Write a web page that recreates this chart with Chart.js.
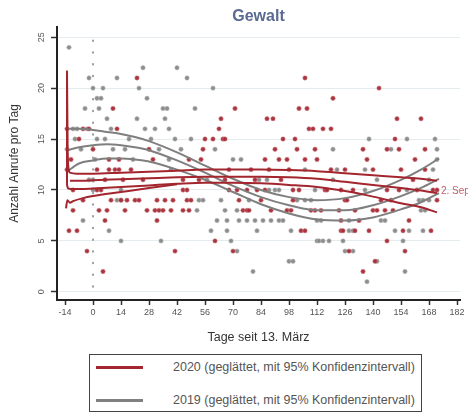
<!DOCTYPE html>
<html><head><meta charset="utf-8">
<script src="https://cdn.jsdelivr.net/npm/chart.js@4.4.0/dist/chart.umd.min.js"></script>
<style>
html,body{margin:0;padding:0;background:#fff;}
#wrap{position:relative;width:468px;height:414px;font-family:'Liberation Sans',Arial,sans-serif;overflow:hidden;}
#cv{position:absolute;left:0;top:0;}
#legend{position:absolute;left:89px;top:354px;width:333px;height:58px;border:1.5px solid #444;box-sizing:border-box;}
.lg-line{position:absolute;left:6px;width:47px;height:3px;}
.lg-text{position:absolute;left:83px;font-size:12.5px;color:#555;white-space:nowrap;line-height:16px;}
</style>
</head><body>
<div id="wrap">
<canvas id="cv" width="468" height="350"></canvas>
<div id="legend">
  <div class="lg-line" style="top:11px;background:#a3262e;"></div>
  <div class="lg-text" id="lg1" style="top:4px;"></div>
  <div class="lg-line" style="top:44px;background:#808080;"></div>
  <div class="lg-text" id="lg2" style="top:37px;"></div>
</div>
</div>
<script>
// ---- texts ----
const titleText = 'Gewalt';
const xTitle = 'Tage seit 13. März';
const yTitle = 'Anzahl Anrufe pro Tag';
const legendTexts = ['2020 (geglättet, mit 95% Konfidenzintervall)', '2019 (geglättet, mit 95% Konfidenzintervall)'];
const endLabel = '2. Sep';
const endLabelPoint = [172, 10];

// ---- ticks ----
const xTicks = [-14, 0, 14, 28, 42, 56, 70, 84, 98, 112, 126, 140, 154, 168, 182];
const yTicks = [0, 5, 10, 15, 20, 25];

// ---- daily counts 2020 [day, calls] ----
const pts2020 = [
  [-13,16],[-7,15],[-5,16],[-2,16],[0,14],[10,18],[12,16],[22,21],[28,14],
  [-11,13],[8,13],[13,13],[30,13],[2,12],[8,12],[11,12],[13,12],[19,12],[-13,12],
  [6,11],[15,11],[25,11],[-10,10],[2,10],[4,10],
  [-5,9],[9,9],[17,9],[21,9],[23,9],[32,9],[36,9],[40,9],[47,9],[14,9],
  [-10,8],[3,8],[7,8],[16,8],[27,8],[31,8],[33,8],[35,8],[39,8],[48,8],
  [6,7],[32,7],[-12,6],[-8,6],[-3,4],[41,4],[5,2],
  [106,21],[71,18],[103,18],[107,18],[64,17],[87,17],[90,17],[63,16],[108,16],[110,16],
  [56,15],[60,15],[65,15],[66,15],[95,15],[101,15],[55,14],[91,14],[102,14],[111,14],
  [48,13],[54,13],[86,13],[93,13],[97,13],[106,13],[68,12],[79,12],[88,12],[98,12],
  [45,11],[53,11],[66,11],[81,11],[94,11],
  [45,10],[47,10],[68,10],[72,10],[77,10],[82,10],[86,10],[100,10],[103,10],
  [49,9],[73,9],[84,9],[100,9],
  [45,8],[75,8],[77,8],[78,8],[89,8],[97,8],[99,8],[109,8],[111,8],
  [104,6],[106,6],[61,5],[70,4],
  [143,20],[120,19],[152,17],[164,17],[115,16],[119,16],[151,15],
  [135,14],[147,14],[153,14],[166,14],[112,13],[137,13],[161,13],
  [119,12],[126,12],[140,12],[154,12],[166,12],[160,11],
  [116,10],[117,10],[124,10],[130,10],[147,10],[153,10],[162,10],[170,10],[172,10],
  [126,9],[127,9],[144,9],[149,9],[172,9],
  [114,8],[123,8],[131,8],[140,8],[142,8],[146,8],[150,8],
  [124,7],[133,7],[158,7],[124,6],[125,6],[131,6],[138,6],[155,6],[169,6],
  [147,5],[128,4],[156,4],[141,3],[135,2]
];

// ---- daily counts 2019 [day, calls] ----
const pts2019 = [
  [-12,24],[-2,21],[12,21],[25,22],[42,22],[47,21],[0,20],[5,20],[23,20],
  [2,19],[4,19],[27,19],[-4,18],[3,18],[35,18],[37,18],[7,17],[22,17],[36,17],
  [-10,16],[-8,16],[26,16],[31,16],[38,16],[-3,16],[9,16],
  [41,15],[2,15],[-9,15],[6,15],[18,15],[29,15],
  [44,14],[-6,14],[10,14],[-13,14],[16,14],[33,14],
  [1,13],[20,13],[38,13],[39,12],[-2,11],[0,11],[0,10],[14,10],[12,9],[14,9],
  [-5,7],[8,6],[14,5],[34,5],
  [60,20],[51,18],[49,15],[61,14],[70,13],[74,13],[106,12],
  [57,11],[83,11],[87,11],[88,10],[91,10],[93,10],
  [53,9],[55,9],[64,9],[78,9],[102,9],[106,9],[109,9],[52,8],[66,8],[72,8],
  [62,7],[67,7],[73,7],[77,7],[81,7],[85,7],[89,7],[93,7],[95,7],
  [59,6],[67,6],[82,6],[99,6],[69,5],[112,5],[72,4],[98,3],[100,3],[80,2],
  [138,15],[157,15],[171,15],[120,14],[149,14],[172,14],[172,13],
  [122,12],[136,12],[170,12],[120,11],[142,11],[168,11],[111,10],[136,10],[157,10],
  [163,9],[165,9],[168,9],[164,8],[166,8],
  [112,7],[114,7],[128,7],[144,7],[146,7],[128,6],[130,6],[151,6],[158,6],[165,6],
  [113,5],[115,5],[118,5],[125,5],[155,5],[126,4],[130,4],[142,3],[156,2],[137,1]
];

// ---- smoothed fit 2020 with confidence bounds ----
const fit20SpikeDays = [-13, -13];
const fit20SpikeVals = [21.7, 10.5];
const fit20UpDays = [-13, -12.7, -12.3, -11.5, -8, 0, 14, 28, 42, 56, 70, 84, 98, 112, 126, 140, 154, 164, 172];
const fit20UpVals = [21.7, 14.5, 12.2, 11.7, 11.6, 11.6, 11.7, 11.8, 11.9, 12.0, 12.0, 12.0, 11.95, 11.85, 11.65, 11.45, 11.25, 11.1, 10.9];
const fit20MidDays = [-11.5, -10, -5, 0, 14, 28, 42, 56, 70, 84, 98, 112, 126, 140, 154, 164, 172];
const fit20MidVals = [10.9, 10.9, 10.9, 10.95, 11.05, 11.15, 11.25, 11.3, 11.3, 11.3, 11.25, 11.1, 10.8, 10.5, 10.2, 9.95, 9.7];
const fit20LowDays = [-13, -12.5, -11, -6, 0, 14, 28, 42, 56, 70, 84, 98, 112, 126, 140, 154, 164, 172];
const fit20LowVals = [10.5, 10.15, 10.1, 10.1, 10.15, 10.3, 10.45, 10.6, 10.7, 10.7, 10.65, 10.5, 10.3, 9.9, 9.35, 8.7, 8.3, 7.8];
const fit20WaveDays = [-13.5, -12.8, -11.5, -10, -5, 0, 14, 28, 42];
const fit20WaveVals = [8.2, 9.0, 8.75, 8.9, 9.2, 9.4, 9.8, 10.2, 10.55];

// ---- smoothed fit 2019 with confidence bounds ----
const fit19Days = [-13, -7, 0, 7, 14, 21, 28, 42, 56, 70, 84, 98, 112, 126, 140, 154, 164, 173];
const fit19Up  = [16.0, 16.0, 15.9, 15.7, 15.5, 15.2, 14.8, 13.7, 12.4, 11.1, 10.0, 9.3, 9.0, 9.2, 9.9, 11.0, 12.0, 13.1];
const fit19Mid = [13.9, 14.2, 14.4, 14.5, 14.4, 14.2, 13.9, 12.9, 11.7, 10.4, 9.3, 8.5, 8.0, 8.0, 8.5, 9.4, 10.2, 11.1];
const fit19Low = [11.8, 12.6, 12.9, 13.1, 13.1, 13.0, 12.8, 12.0, 11.0, 9.8, 8.6, 7.7, 7.1, 7.0, 7.3, 8.1, 8.8, 9.7];

// ---- reference line (day 0) ----
const refLineDays = [0, 0];
const refLineVals = [0.5, 25.7];

const xy = (ds, vs) => ds.map((d, i) => ({x: d, y: vs[i]}));
const pxy = pts => pts.map(p => ({x: p[0], y: p[1]}));

document.getElementById('lg1').textContent = legendTexts[0];
document.getElementById('lg2').textContent = legendTexts[1];

const RED = '#a3262e', GRAY = '#7f7f7f';
const lineDs = (data, color, extra) => Object.assign({
  type: 'line', data, borderColor: color, borderWidth: 2, pointRadius: 0, fill: false,
  cubicInterpolationMode: 'monotone', order: 1
}, extra || {});

const endLabelPlugin = {
  id: 'endLabel',
  afterDatasetsDraw(chart) {
    const {ctx, scales: {x, y}} = chart;
    ctx.save();
    ctx.font = '10px "Liberation Sans", Arial, sans-serif';
    ctx.fillStyle = '#c0606a';
    ctx.textBaseline = 'middle';
    ctx.textAlign = 'left';
    ctx.fillText(endLabel, x.getPixelForValue(endLabelPoint[0]) + 4, y.getPixelForValue(endLabelPoint[1]) + 1);
    ctx.restore();
  }
};

Chart.defaults.font.family = '"Liberation Sans", Arial, sans-serif';

new Chart(document.getElementById('cv'), {
  type: 'scatter',
  data: {
    datasets: [
      lineDs(xy(fit20SpikeDays, fit20SpikeVals), RED, {tension: 0, cubicInterpolationMode: 'default', order: 0}),
      lineDs(xy(fit20UpDays, fit20UpVals), RED, {order: 0}),
      lineDs(xy(fit20MidDays, fit20MidVals), RED, {order: 0}),
      lineDs(xy(fit20LowDays, fit20LowVals), RED, {order: 0}),
      lineDs(xy(fit20WaveDays, fit20WaveVals), RED, {order: 0}),
      lineDs(xy(fit19Days, fit19Up), GRAY),
      lineDs(xy(fit19Days, fit19Mid), GRAY),
      lineDs(xy(fit19Days, fit19Low), GRAY),
      {data: pxy(pts2020), pointRadius: 2.2, pointBorderWidth: 0.8,
       backgroundColor: 'rgba(165,40,52,0.95)', borderColor: 'rgba(205,130,135,0.7)', order: 2},
      {data: pxy(pts2019), pointRadius: 2.2, pointBorderWidth: 0.8,
       backgroundColor: 'rgba(135,135,135,0.95)', borderColor: 'rgba(185,185,185,0.7)', order: 3},
      lineDs(xy(refLineDays, refLineVals), '#9a9a9a', {tension: 0, cubicInterpolationMode: 'default',
        borderWidth: 2, borderDash: [0.5, 11.2], borderCapStyle: 'round', order: 4})
    ]
  },
  options: {
    responsive: false,
    animation: false,
    devicePixelRatio: 1,
    layout: {padding: {left: 0, right: 8, top: 0, bottom: 4}},
    plugins: {legend: {display: false}, tooltip: {enabled: false}, title: {display: false}},
    scales: {
      x: {
        type: 'linear', position: 'bottom', min: -18, max: 183.5,
        afterBuildTicks: s => { s.ticks = xTicks.map(v => ({value: v})); },
        afterFit: s => { s.height = 46; },
        grid: {display: true, drawOnChartArea: false, drawTicks: true, tickLength: 5, tickColor: '#333', tickWidth: 1.5},
        border: {display: true, color: '#222', width: 2},
        ticks: {font: {size: 9}, color: '#555', padding: 2, maxRotation: 0, minRotation: 0, autoSkip: false},
        title: {display: true, text: xTitle, font: {size: 12.5}, color: '#333', padding: {top: 0, bottom: 1}}
      },
      xTop: {
        type: 'linear', position: 'top', min: -18, max: 183.5,
        afterFit: s => { s.height = 27; },
        grid: {display: false, drawTicks: false},
        border: {display: false},
        ticks: {display: false},
        title: {display: true, text: titleText, font: {size: 16, weight: 'bold'}, color: '#5b6a93', padding: {top: 7, bottom: 0}}
      },
      y: {
        type: 'linear', position: 'left', min: -0.8, max: 26,
        afterBuildTicks: s => { s.ticks = yTicks.map(v => ({value: v})); },
        afterFit: s => { s.width = 57; },
        grid: {display: true, drawOnChartArea: true, color: '#e4ecef', lineWidth: 1, drawTicks: true, tickLength: 6, tickColor: '#333', tickWidth: 1.5},
        border: {display: true, color: '#222', width: 2},
        ticks: {font: {size: 9}, color: '#555', padding: 4, minRotation: 90, maxRotation: 90, crossAlign: 'center', autoSkip: false},
        title: {display: true, text: yTitle, font: {size: 12}, color: '#333', padding: {top: 7, bottom: 0}}
      }
    }
  },
  plugins: [endLabelPlugin]
});
</script>
</body></html>
